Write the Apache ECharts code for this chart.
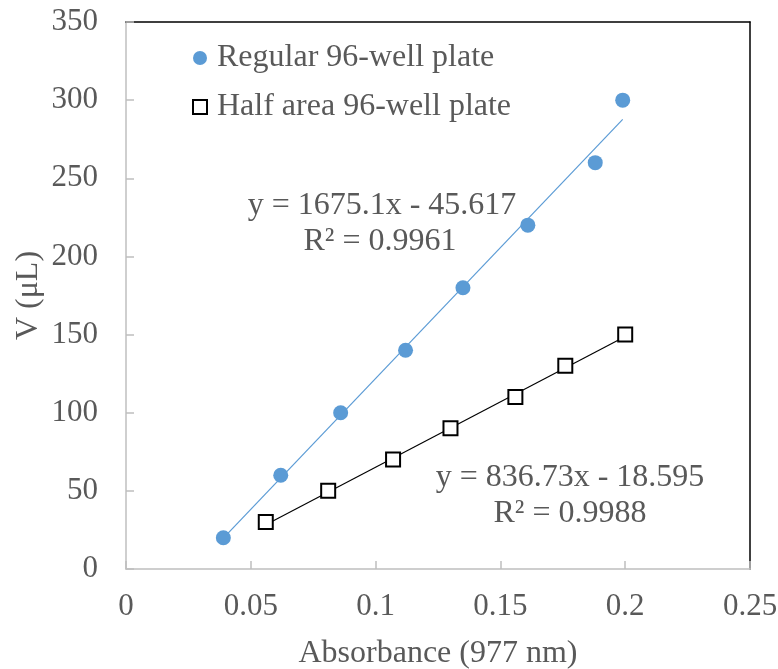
<!DOCTYPE html>
<html>
<head>
<meta charset="utf-8">
<script src="https://cdn.jsdelivr.net/npm/echarts@6/dist/echarts.min.js"></script>
<style>html,body{margin:0;padding:0;background:#fff}#c{width:778px;height:669px}</style>
</head>
<body>
<div id="c"></div>
<script>
// Data
var regularX = [0.039, 0.062, 0.086, 0.112, 0.135, 0.161, 0.188, 0.199];
var regularY = [20, 60, 100, 140, 180, 220, 260, 300];
var halfX = [0.056, 0.081, 0.107, 0.130, 0.156, 0.176, 0.200];
var halfY = [30, 50, 70, 90, 110, 130, 150];
var seriesNames = ['Regular 96-well plate', 'Half area 96-well plate'];
// Linear trendline coefficients [slope, intercept] as printed on the chart
var regularFit = [1675.1, -45.617];
var halfFit = [836.73, -18.595];
var regularEq = ['y = 1675.1x - 45.617', 'R² = 0.9961'];
var halfEq = ['y = 836.73x - 18.595', 'R² = 0.9988'];
var xTicks = [0, 0.05, 0.1, 0.15, 0.2, 0.25];
var yTicks = [0, 50, 100, 150, 200, 250, 300, 350];

function pairs(xs, ys) { return xs.map(function (x, i) { return [x, ys[i]]; }); }
function trend(xs, fit) {
  var x0 = Math.min.apply(null, xs), x1 = Math.max.apply(null, xs);
  return [[x0, fit[0] * x0 + fit[1]], [x1, fit[0] * x1 + fit[1]]];
}

var FONT = '"Liberation Serif", "Times New Roman", serif';
var GRAY = '#595959';
var AXIS = '#BFBFBF';
var BLUE = '#5B9BD5';
var FS = 32;
var TFS = 31;

var chart = echarts.init(document.getElementById('c'));
chart.setOption({
  animation: false,
  backgroundColor: '#fff',
  textStyle: { fontFamily: FONT },
  grid: { left: 126, right: 28, top: 22, bottom: 100, containLabel: false, outerBoundsMode: 'none' },
  legend: {
    orient: 'vertical', left: 192, top: 41, padding: 0,
    itemWidth: 14, itemHeight: 14, itemGap: 15,
    textStyle: { fontFamily: FONT, fontSize: FS, color: GRAY, lineHeight: 34, padding: [0, 0, 0, 5] },
    data: seriesNames
  },
  xAxis: [{
    type: 'value', min: xTicks[0], max: xTicks[xTicks.length - 1], interval: 0.05,
    name: 'Absorbance (977 nm)', nameLocation: 'middle', nameGap: 69, nameMoveOverlap: false,
    nameTextStyle: { fontFamily: FONT, fontSize: FS, color: GRAY },
    axisLine: { show: true, onZero: false, lineStyle: { color: AXIS, width: 1.5 } },
    axisTick: { show: true, inside: true, length: 8, lineStyle: { color: AXIS, width: 1.5 } },
    axisLabel: { fontFamily: FONT, fontSize: TFS, color: GRAY, margin: 22 },
    splitLine: { show: false }
  }, {
    type: 'value', position: 'top', min: 0, max: 0.25,
    axisLine: { show: true, onZero: false, lineStyle: { color: '#000', width: 1.5 } },
    axisTick: { show: false }, axisLabel: { show: false }, splitLine: { show: false }
  }],
  yAxis: [{
    type: 'value', min: yTicks[0], max: yTicks[yTicks.length - 1], interval: 50,
    name: 'V (μL)', nameLocation: 'middle', nameGap: 81, nameRotate: 90, nameMoveOverlap: false,
    nameTextStyle: { fontFamily: FONT, fontSize: FS, color: GRAY },
    axisLine: { show: true, onZero: false, lineStyle: { color: AXIS, width: 1.5 } },
    axisTick: { show: true, inside: true, length: 8, lineStyle: { color: AXIS, width: 1.5 } },
    axisLabel: { fontFamily: FONT, fontSize: TFS, color: GRAY, margin: 28 },
    splitLine: { show: false }
  }, {
    type: 'value', position: 'right', min: 0, max: 350,
    axisLine: { show: true, onZero: false, lineStyle: { color: '#000', width: 1.5 } },
    axisTick: { show: false }, axisLabel: { show: false }, splitLine: { show: false }
  }],
  series: [
    {
      name: seriesNames[0] + ' fit', type: 'line', data: trend(regularX, regularFit),
      symbol: 'none', lineStyle: { color: BLUE, width: 1.2 }, z: 1, silent: true
    },
    {
      name: seriesNames[1] + ' fit', type: 'line', data: trend(halfX, halfFit),
      symbol: 'none', lineStyle: { color: '#000', width: 1.2 }, z: 1, silent: true
    },
    {
      name: seriesNames[0], type: 'scatter', data: pairs(regularX, regularY),
      symbol: 'circle', symbolSize: 15, itemStyle: { color: BLUE, opacity: 1 }, z: 3
    },
    {
      name: seriesNames[1], type: 'scatter', data: pairs(halfX, halfY),
      symbol: 'rect', symbolSize: 14,
      itemStyle: { color: '#fff', borderColor: '#000', borderWidth: 2, opacity: 1 }, z: 3
    }
  ],
  graphic: [
    { type: 'text', x: 382, y: 206, style: { text: regularEq[0], font: FS + 'px ' + FONT, fill: GRAY, textAlign: 'center', textVerticalAlign: 'middle' } },
    { type: 'text', x: 380, y: 242, style: { text: regularEq[1], font: FS + 'px ' + FONT, fill: GRAY, textAlign: 'center', textVerticalAlign: 'middle' } },
    { type: 'text', x: 570, y: 478, style: { text: halfEq[0], font: FS + 'px ' + FONT, fill: GRAY, textAlign: 'center', textVerticalAlign: 'middle' } },
    { type: 'text', x: 570, y: 514, style: { text: halfEq[1], font: FS + 'px ' + FONT, fill: GRAY, textAlign: 'center', textVerticalAlign: 'middle' } }
  ]
});
</script>
</body>
</html>
